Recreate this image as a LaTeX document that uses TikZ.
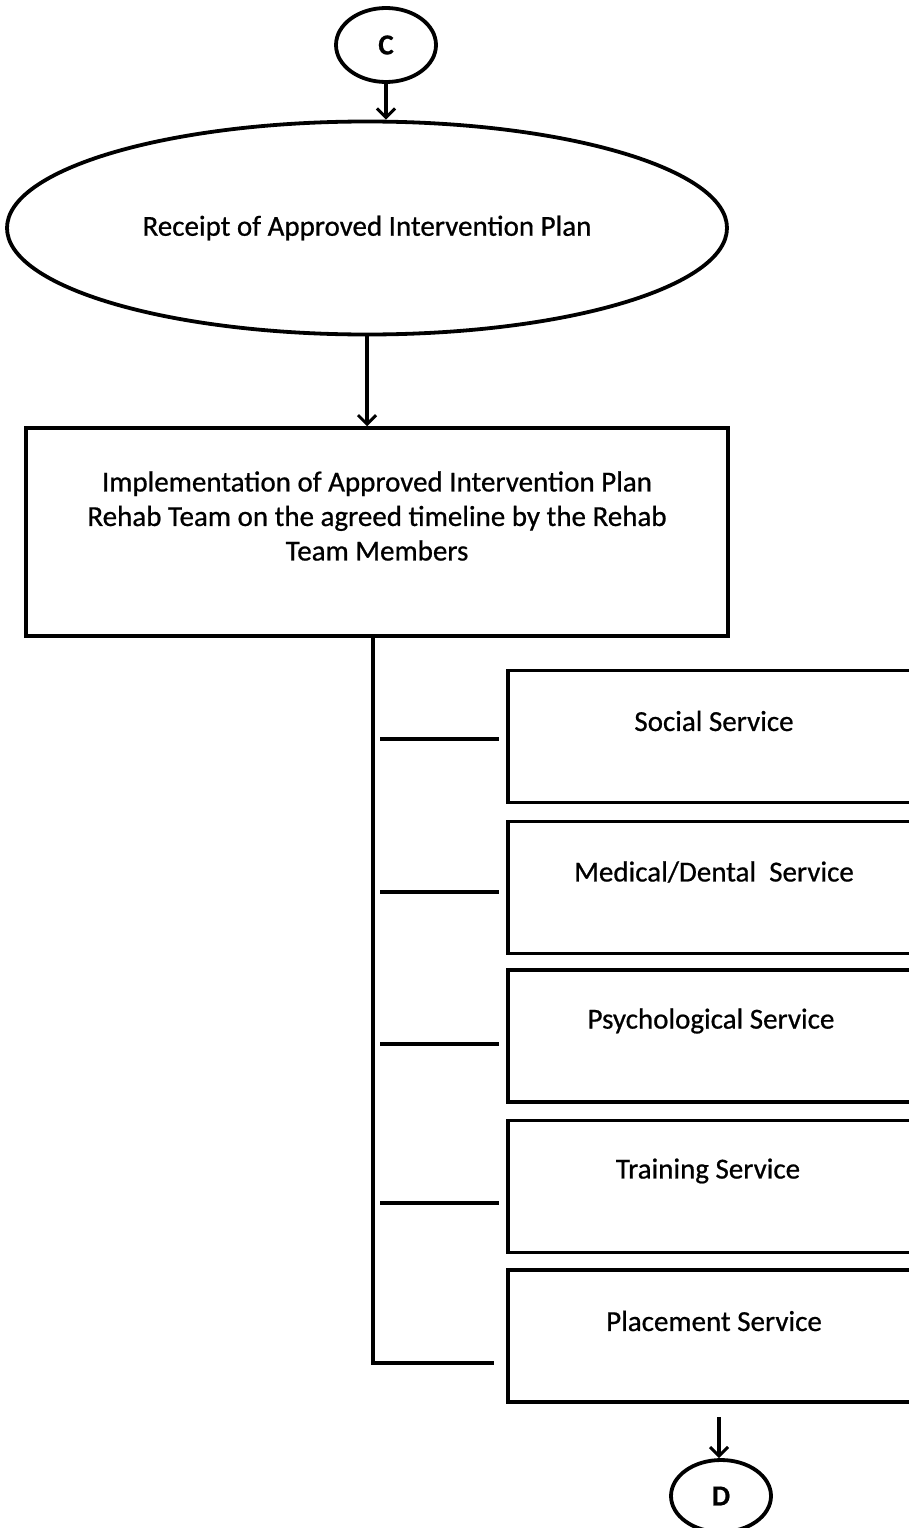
\documentclass[tikz,border=0pt]{standalone}
\usepackage{fontspec}
\setmainfont{Carlito}[FakeBold=0.7]
\usetikzlibrary{shapes.geometric,arrows.meta}
\tikzset{
  every node/.style={font=\fontsize{29}{34.5}\selectfont},
  line/.style={line width=3.5pt},
  arr/.style={line width=3.5pt,-{Straight Barb[length=9pt,width=18pt,line width=3pt]}},
  oval/.style={draw,ellipse,line width=3.8pt,inner sep=0pt},
  box/.style={draw,rectangle,line width=3.5pt,inner sep=0pt},
  svc/.style={box,minimum width=412pt,minimum height=132pt},
}
\begin{document}
\begin{tikzpicture}[x=1pt,y=-1pt]
\useasboundingbox (0,0) rectangle (909,1528);
\clip (0,0) rectangle (909,1528);
\fill[white] (0,0) rectangle (909,1528);
\node[oval,minimum width=100pt,minimum height=74pt] (C) at (386,45) {\bfseries C};
\node[oval,minimum width=720pt,minimum height=213pt] (rec) at (367,228) {Receipt of Approved Intervention Plan};
\node[box,minimum width=702pt,minimum height=208pt,align=center] (main) at (377,532) {};
\node[align=center] (maintxt) at (377,516) {Implementation of Approved Intervention Plan\\Rehab Team on the agreed timeline by the Rehab\\Team Members};
\node[svc] (s1) at (714,736.5) {};
\node[svc] (s2) at (714,887.5) {};
\node[svc] (s3) at (714,1036) {};
\node[svc] (s4) at (714,1186.5) {};
\node[svc] (s5) at (714,1336) {};
\node (t1) at ([yshift=15.5pt]s1.center) {Social Service};
\node (t2) at ([yshift=15.5pt]s2.center) {Medical/Dental\ \ Service};
\node (t3) at ([yshift=15pt,xshift=-3pt]s3.center) {Psychological Service};
\node (t4) at ([yshift=15.5pt,xshift=-6pt]s4.center) {Training Service};
\node (t5) at ([yshift=15pt]s5.center) {Placement Service};
\node[oval,minimum width=100pt,minimum height=72pt] (D) at (721,1496) {\bfseries D};
% arrows
\draw[arr] (C.south) -- (C.south |- rec.north);
\draw[arr] (rec.south) -- (rec.south |- main.north);
\coordinate (d0) at (719,1417);
\draw[arr] (d0) -- (d0 |- D.north);
% trunk
\coordinate (top) at (373,636);
\coordinate (bot) at (373,1363);
\coordinate (botend) at (494,1363);
\draw[line] (top) -- (bot) -- (botend);
% branches
\coordinate (b1) at (380,739);
\coordinate (b2) at (380,892);
\coordinate (b3) at (380,1044);
\coordinate (b4) at (380,1203);
\draw[line,shorten >=7pt] (b1) -- (b1 -| s1.west);
\draw[line,shorten >=7pt] (b2) -- (b2 -| s2.west);
\draw[line,shorten >=7pt] (b3) -- (b3 -| s3.west);
\draw[line,shorten >=7pt] (b4) -- (b4 -| s4.west);
\end{tikzpicture}
\end{document}
